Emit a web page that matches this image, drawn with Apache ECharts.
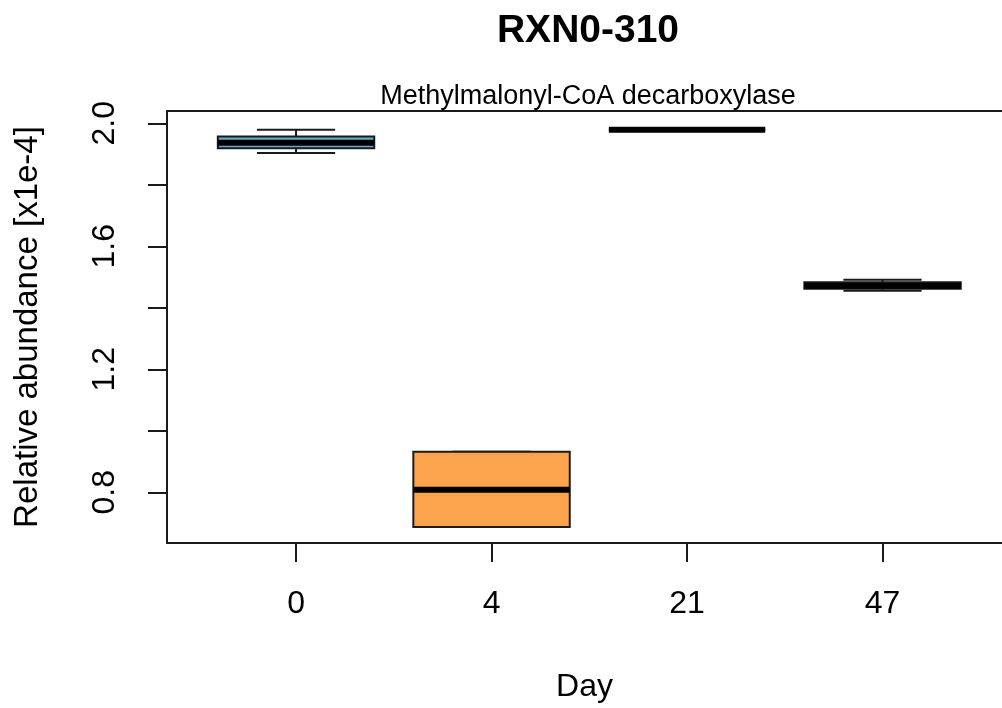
<!DOCTYPE html>
<html>
<head>
<meta charset="utf-8">
<title>RXN0-310</title>
<script src="https://cdn.jsdelivr.net/npm/echarts@6/dist/echarts.min.js"></script>
<style>
  html, body { margin: 0; padding: 0; background: #ffffff; }
  #chart { width: 1002px; height: 708px; }
</style>
</head>
<body>
<div id="chart"></div>
<script>
// Sampling days and five-number summaries of relative abundance (x1e-4)
const days = ['0', '4', '21', '47'];
const minVals    = [1.903, 0.687, 1.979, 1.455];
const q1Vals     = [1.919, 0.687, 1.979, 1.462];
const medianVals = [1.937, 0.808, 1.979, 1.472];
const q3Vals     = [1.957, 0.932, 1.979, 1.483];
const maxVals    = [1.979, 0.932, 1.979, 1.491];
const boxColors  = ['#63A9CF', '#FCA34E', '#74C476', '#9E9AC8'];

const yTickValues  = [0.8, 1.0, 1.2, 1.4, 1.6, 1.8, 2.0];
const yLabelValues = [0.8, 1.2, 1.6, 2.0];

const FONT = '"Liberation Sans", Arial, Helvetica, sans-serif';
const INK = '#1a1a1a';

const boxData = days.map((d, i) => [i + 1, minVals[i], q1Vals[i], medianVals[i], q3Vals[i], maxVals[i]]);

function renderBox(params, api) {
  const x = api.value(0);
  const lo = api.coord([x, api.value(1)]);
  const q1 = api.coord([x, api.value(2)]);
  const md = api.coord([x, api.value(3)]);
  const q3 = api.coord([x, api.value(4)]);
  const hi = api.coord([x, api.value(5)]);
  const halfBox = api.size([0.8, 0])[0] / 2;   // box width 0.8 of the group spacing
  const halfCap = halfBox / 2;                   // staples half the box width
  const cx = md[0];
  const lineStyle = { stroke: INK, lineWidth: 2 };
  const dashStyle = { stroke: INK, lineWidth: 2, lineDash: [8, 6] };
  return {
    type: 'group',
    children: [
      { type: 'line', shape: { x1: cx, y1: q3[1], x2: cx, y2: hi[1] }, style: dashStyle },
      { type: 'line', shape: { x1: cx, y1: q1[1], x2: cx, y2: lo[1] }, style: dashStyle },
      { type: 'line', shape: { x1: cx - halfCap, y1: hi[1], x2: cx + halfCap, y2: hi[1] }, style: lineStyle },
      { type: 'line', shape: { x1: cx - halfCap, y1: lo[1], x2: cx + halfCap, y2: lo[1] }, style: lineStyle },
      {
        type: 'rect',
        shape: { x: cx - halfBox, y: q3[1], width: halfBox * 2, height: q1[1] - q3[1] },
        style: { fill: boxColors[params.dataIndex], stroke: INK, lineWidth: 2 }
      },
      {
        type: 'line',
        shape: { x1: cx - halfBox, y1: md[1], x2: cx + halfBox, y2: md[1] },
        style: { stroke: '#000', lineWidth: 6, lineCap: 'butt' }
      }
    ]
  };
}

const chart = echarts.init(document.getElementById('chart'), null, { renderer: 'canvas' });

// The plot region runs past the right edge of the page, so the x range
// stops where the page ends (group spacing stays the same).
const X_MIN = 0.34, X_MAX = 4.611;

chart.setOption({
  backgroundColor: '#ffffff',
  animation: false,
  textStyle: { fontFamily: FONT },
  graphic: [
    {
      type: 'text', x: 588, y: 31,
      style: { text: 'RXN0-310', font: 'bold 39px ' + FONT, fill: '#000', align: 'center', verticalAlign: 'middle' }
    },
    {
      type: 'text', x: 588, y: 97,
      style: { text: 'Methylmalonyl-CoA decarboxylase', font: '27px ' + FONT, fill: '#000', align: 'center', verticalAlign: 'middle' }
    }
  ],
  grid: {
    left: 167, top: 111, width: 835, height: 433, show: false
  },
  xAxis: [{
    type: 'value',
    position: 'bottom',
    min: X_MIN, max: X_MAX,
    name: 'Day',
    nameLocation: 'middle',
    nameGap: 128,
    nameTextStyle: { fontSize: 32, color: '#000', fontFamily: FONT },
    axisLine: { show: true, onZero: false, lineStyle: { color: INK, width: 2 } },
    splitLine: { show: false },
    axisTick: { show: true, inside: false, length: 19, customValues: [1, 2, 3, 4], lineStyle: { color: INK, width: 2 } },
    axisLabel: {
      customValues: [1, 2, 3, 4],
      formatter: v => days[Math.round(v) - 1],
      fontSize: 32, color: '#000', fontFamily: FONT, margin: 45
    }
  }, {
    // top edge of the plot frame
    type: 'value',
    position: 'top',
    min: X_MIN, max: X_MAX,
    axisLine: { show: true, onZero: false, lineStyle: { color: INK, width: 2 } },
    axisTick: { show: false },
    axisLabel: { show: false },
    splitLine: { show: false }
  }],
  yAxis: {
    type: 'value',
    min: 0.635, max: 2.04,
    name: 'Relative abundance [x1e-4]',
    nameLocation: 'middle',
    nameGap: 123,
    nameTextStyle: { fontSize: 33, color: '#000', fontFamily: FONT },
    axisLine: { show: true, onZero: false, lineStyle: { color: INK, width: 2 } },
    splitLine: { show: false },
    axisTick: { show: true, inside: false, length: 19, customValues: yTickValues, lineStyle: { color: INK, width: 2 } },
    axisLabel: {
      customValues: yLabelValues,
      formatter: v => v.toFixed(1),
      rotate: 90,
      fontSize: 32, color: '#000', fontFamily: FONT, margin: 46
    }
  },
  series: [{
    type: 'custom',
    xAxisIndex: 0,
    renderItem: renderBox,
    encode: { x: 0, y: [1, 2, 3, 4, 5] },
    data: boxData,
    clip: false
  }]
});
</script>
</body>
</html>
